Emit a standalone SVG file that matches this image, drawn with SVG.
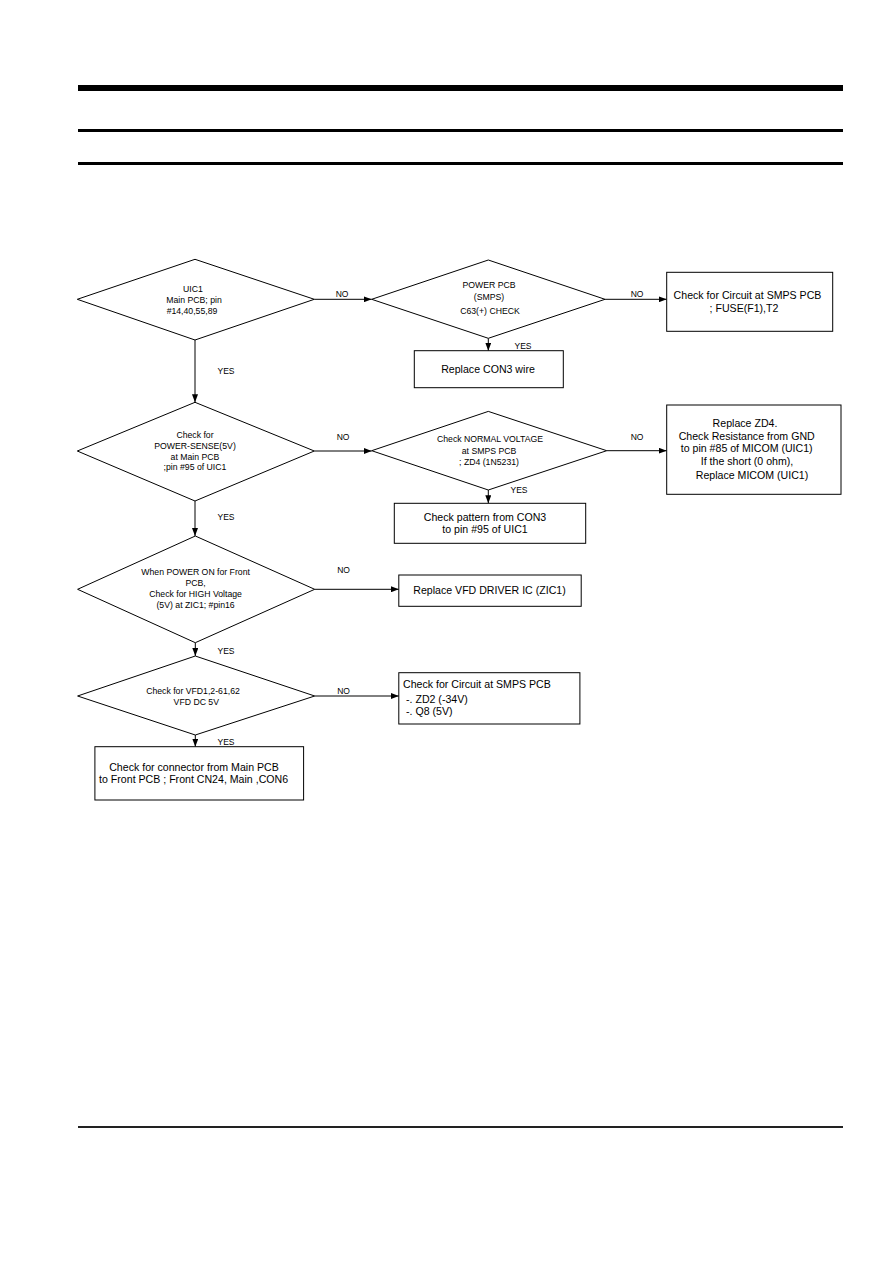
<svg xmlns="http://www.w3.org/2000/svg" width="893" height="1263" viewBox="0 0 893 1263">
<style>
.s{fill:#fff;stroke:#000;stroke-width:1}
.c{fill:none;stroke:#000;stroke-width:1}
.d{font-family:"Liberation Sans",Arial,sans-serif;font-size:8.7px;fill:#000;text-anchor:middle}
.b{font-family:"Liberation Sans",Arial,sans-serif;font-size:10.6px;fill:#000;text-anchor:middle}
.l{font-family:"Liberation Sans",Arial,sans-serif;font-size:8.5px;fill:#000;text-anchor:middle}
</style>
<defs>
<marker id="ah" markerUnits="userSpaceOnUse" markerWidth="8" markerHeight="6" refX="8" refY="3" orient="auto">
<path d="M0,0 L8,3 L0,6 z" fill="#000"/>
</marker>
</defs>
<rect width="893" height="1263" fill="#fff"/>
<g id="header">
<rect x="78" y="85" width="765" height="6" fill="#000"/>
<rect x="78" y="129" width="765" height="3" fill="#000"/>
<rect x="78" y="162" width="765" height="3" fill="#000"/>
<rect x="78" y="1126" width="765" height="2" fill="#222"/>
</g>
<g id="connectors">
<line class="c" x1="314.3" y1="299.3" x2="371.7" y2="299.3" marker-end="url(#ah)"/>
<line class="c" x1="605" y1="299.3" x2="666.7" y2="299.3" marker-end="url(#ah)"/>
<line class="c" x1="488.3" y1="338.3" x2="488.3" y2="350.7" marker-end="url(#ah)"/>
<line class="c" x1="195" y1="340" x2="195" y2="402.3" marker-end="url(#ah)"/>
<line class="c" x1="314.3" y1="451" x2="371.7" y2="451" marker-end="url(#ah)"/>
<line class="c" x1="606.7" y1="450.7" x2="666.7" y2="450.7" marker-end="url(#ah)"/>
<line class="c" x1="488.3" y1="490" x2="488.3" y2="503.3" marker-end="url(#ah)"/>
<line class="c" x1="195" y1="501" x2="195" y2="536" marker-end="url(#ah)"/>
<line class="c" x1="314.7" y1="589.3" x2="398.8" y2="589.3" marker-end="url(#ah)"/>
<line class="c" x1="195.3" y1="642.7" x2="195.3" y2="656" marker-end="url(#ah)"/>
<line class="c" x1="314.7" y1="696" x2="398.8" y2="696" marker-end="url(#ah)"/>
<line class="c" x1="195.3" y1="735" x2="195.3" y2="746.7" marker-end="url(#ah)"/>
<text class="l" x="342" y="297">NO</text>
<text class="l" x="226" y="374">YES</text>
<text class="l" x="637" y="297">NO</text>
<text class="l" x="523" y="348.5">YES</text>
<text class="l" x="343" y="440">NO</text>
<text class="l" x="226" y="520">YES</text>
<text class="l" x="637" y="440">NO</text>
<text class="l" x="519" y="493">YES</text>
<text class="l" x="343.5" y="573">NO</text>
<text class="l" x="226" y="653.5">YES</text>
<text class="l" x="343.5" y="693.5">NO</text>
<text class="l" x="226" y="744.5">YES</text>
</g>
<g id="d1">
<polygon class="s" points="77.3,299.3 195,259.3 314.3,299.3 195,340"/>
<text class="d" x="193" y="291.7">UIC1</text>
<text class="d" x="194" y="302.7">Main PCB; pin</text>
<text class="d" x="192" y="314">#14,40,55,89</text>
</g>
<g id="d2">
<polygon class="s" points="371.7,299.3 488.3,260 605,299.3 488.3,338.3"/>
<text class="d" x="489" y="288.3">POWER PCB</text>
<text class="d" x="489" y="300">(SMPS)</text>
<text class="d" x="490" y="314.3">C63(+) CHECK</text>
</g>
<g id="b1">
<rect class="s" x="666.7" y="272.3" width="166" height="59"/>
<text class="b" x="747.5" y="299">Check for Circuit at SMPS PCB</text>
<text class="b" x="744" y="312.3">; FUSE(F1),T2</text>
</g>
<g id="b2">
<rect class="s" x="414.3" y="350.7" width="149" height="37"/>
<text class="b" x="488" y="373.3">Replace CON3 wire</text>
</g>
<g id="d3">
<polygon class="s" points="77.3,451 195,402.3 314.3,451 195,501"/>
<text class="d" x="195" y="438.3">Check for</text>
<text class="d" x="195" y="449">POWER-SENSE(5V)</text>
<text class="d" x="195" y="460">at Main PCB</text>
<text class="d" x="195" y="470.3">;pin #95 of UIC1</text>
</g>
<g id="d4">
<polygon class="s" points="371.7,450.7 488.3,411.4 606.7,450.7 488.3,490"/>
<text class="d" x="490" y="442.3">Check NORMAL VOLTAGE</text>
<text class="d" x="489" y="453.7">at SMPS PCB</text>
<text class="d" x="489" y="464.7">; ZD4 (1N5231)</text>
</g>
<g id="b3">
<rect class="s" x="666.7" y="405" width="174.3" height="89.3"/>
<text class="b" x="745" y="427.3">Replace ZD4.</text>
<text class="b" x="746.7" y="439.5">Check Resistance from GND</text>
<text class="b" x="746.7" y="452.3">to pin #85 of MICOM (UIC1)</text>
<text class="b" x="747" y="465">If the short (0 ohm),</text>
<text class="b" x="752" y="479.3">Replace MICOM (UIC1)</text>
</g>
<g id="b4">
<rect class="s" x="394.3" y="503.3" width="191.4" height="40"/>
<text class="b" x="485" y="520.7">Check pattern from CON3</text>
<text class="b" x="485" y="533.3">to pin #95 of UIC1</text>
</g>
<g id="d5">
<polygon class="s" points="77.6,589.3 195.3,536 314.7,589.3 195.3,642.7"/>
<text class="d" x="195.6" y="575.3">When POWER ON for Front</text>
<text class="d" x="195.6" y="586">PCB,</text>
<text class="d" x="195.6" y="596.7">Check for HIGH Voltage</text>
<text class="d" x="195.6" y="608">(5V) at ZIC1; #pin16</text>
</g>
<g id="b5">
<rect class="s" x="398.8" y="575" width="182.4" height="31.3"/>
<text class="b" x="489.5" y="594.3">Replace VFD DRIVER IC (ZIC1)</text>
</g>
<g id="d6">
<polygon class="s" points="77.6,696 195.3,656 314.7,696 195.3,735"/>
<text class="d" x="193" y="693.7">Check for VFD1,2-61,62</text>
<text class="d" x="196.3" y="704.7">VFD DC 5V</text>
</g>
<g id="b6">
<rect class="s" x="398.8" y="672.7" width="181.1" height="51.3"/>
<text class="b" x="403" y="688.3" style="text-anchor:start">Check for Circuit at SMPS PCB</text>
<text class="b" x="406" y="702.7" style="text-anchor:start">-. ZD2 (-34V)</text>
<text class="b" x="406" y="715.3" style="text-anchor:start">-. Q8 (5V)</text>
</g>
<g id="b7">
<rect class="s" x="94.9" y="746.7" width="208.7" height="53.3"/>
<text class="b" x="194" y="770.7">Check for connector from Main PCB</text>
<text class="b" x="193.6" y="783.3">to Front PCB ; Front CN24, Main ,CON6</text>
</g>
</svg>
